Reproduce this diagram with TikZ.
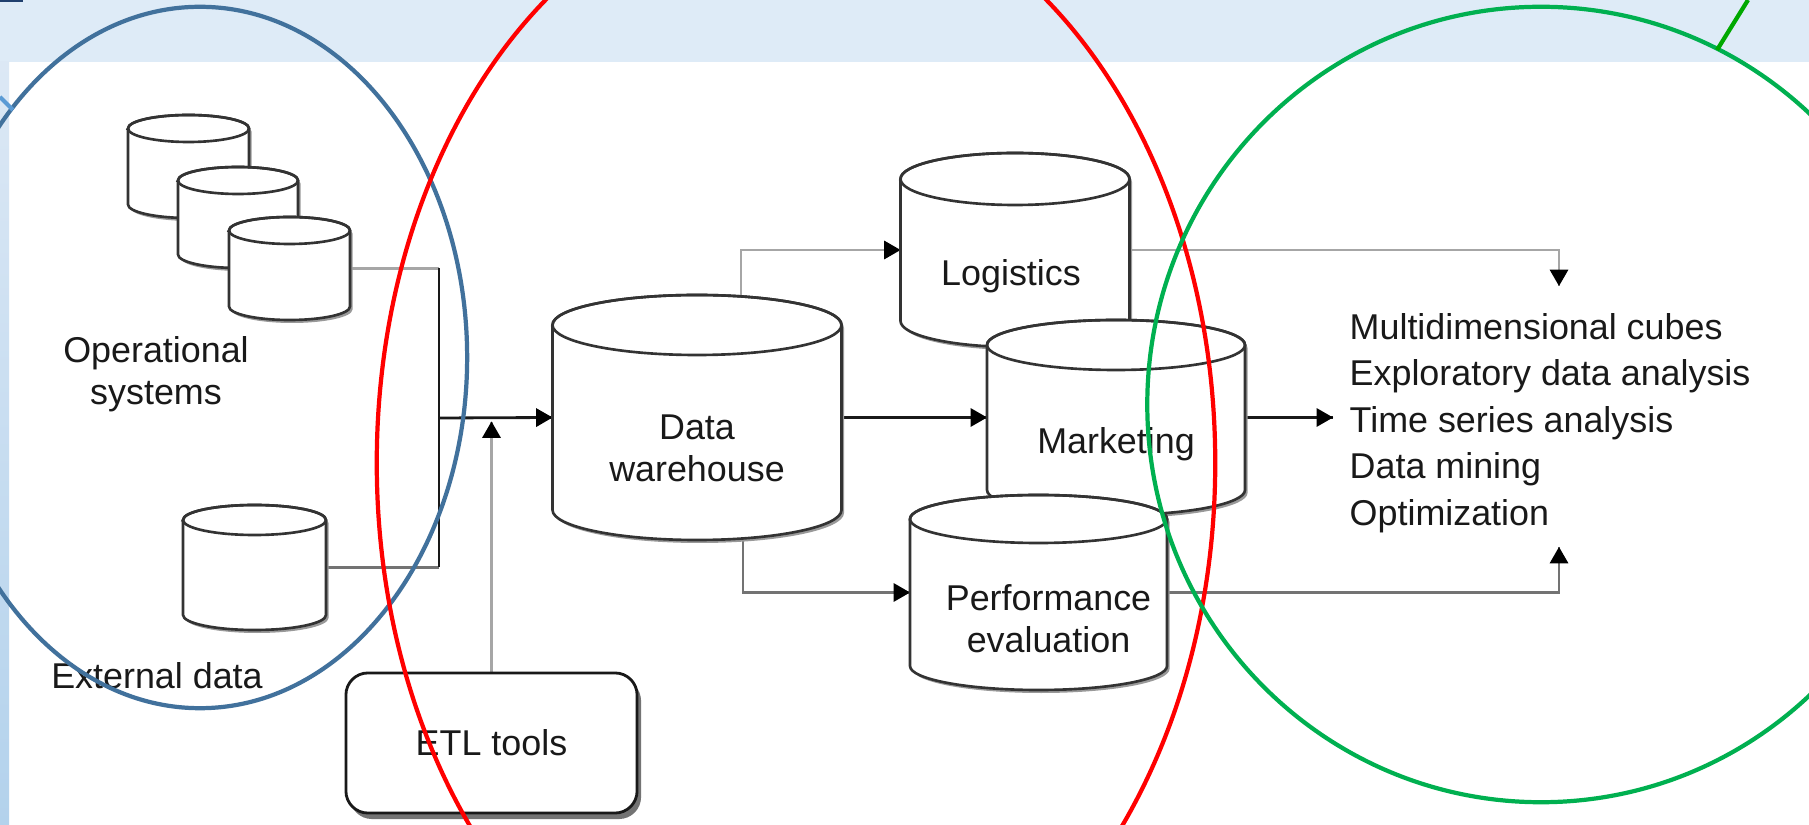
\documentclass[tikz,border=0pt]{standalone}
\usepackage{fontspec}
\setmainfont{Liberation Sans}
\usetikzlibrary{arrows}
\usetikzlibrary{decorations.markings}
\usetikzlibrary{backgrounds}
\usetikzlibrary{shadows}
\definecolor{bandblue}{HTML}{DEEBF7}
\definecolor{stripblue}{HTML}{DCE8F5}
\definecolor{stripdeep}{HTML}{B3D2EC}
\definecolor{navymark}{HTML}{1F3F6E}
\definecolor{loopblue}{HTML}{41719C}
\definecolor{sideblue}{HTML}{5B9BD5}
\definecolor{loopred}{HTML}{FF0000}
\definecolor{loopgreen}{HTML}{00B050}
\definecolor{stickgreen}{HTML}{00A800}
\newcommand{\lblfont}{\fontsize{10.2}{12}\selectfont}
\newcommand{\usesfont}{\fontsize{10.2}{13.25}\selectfont}
\tikzset{headed/.style = {decoration={markings,
                                      mark=at position 1 with {\arrow[scale=0.7, black]{triangle 60}}},
                          postaction={decorate}}}
\tikzset{cylline/.style = {draw=black!80, line width=0.75pt, fill=white,
                           drop shadow={shadow xshift=0.025cm, shadow yshift=-0.03cm,
                                        fill=black!40, opacity=1}}}
\tikzset{capline/.style = {draw=black!80, line width=0.75pt}}
\tikzset{cylbody/.style = {inner sep=0pt, outer sep=0pt}}
\tikzset{dbtext/.style = {font=\lblfont, align=center, inner sep=0pt, text=black!90}}
\tikzset{usestext/.style = {font=\usesfont, align=left, inner sep=0pt, text=black!90}}
\tikzset{etlbox/.style = {draw=black!90, line width=0.8pt, fill=white, rounded corners=0.22cm,
                          minimum width=2.91cm, minimum height=1.40cm, font=\lblfont, text=black!90,
                          drop shadow={shadow xshift=0.04cm, shadow yshift=-0.06cm,
                                       fill=black!55, opacity=1}}}
\tikzset{feed/.style = {draw=black!35, line width=0.8pt}}
\tikzset{feeddark/.style = {draw=black!55, line width=0.8pt}}
\tikzset{trunk/.style = {draw=black!90, line width=0.8pt}}
\tikzset{loop/.style = {line width=1.2pt}}

% #1 name, #2 centre x, #3 top, #4 bottom, #5 half width, #6 cap radius
\newcommand{\dbcyl}[6]{%
  \pgfmathsetmacro{\cyltop}{#3+#6}%
  \pgfmathsetmacro{\cylbot}{#4-#6}%
  \pgfmathsetmacro{\cylmid}{(\cyltop+\cylbot)/2}%
  \pgfmathsetmacro{\cylrx}{#5*0.01}%
  \pgfmathsetmacro{\cylry}{#6*0.01}%
  \pgfmathsetmacro{\cylwd}{2*#5*0.01}%
  \pgfmathsetmacro{\cylht}{(\cylbot-\cyltop)*0.01}%
  \filldraw[cylline] (#2-#5,\cyltop) -- (#2-#5,\cylbot)
    arc[start angle=180, end angle=360, x radius=\cylrx cm, y radius=\cylry cm]
    -- (#2+#5,\cyltop)
    arc[start angle=0, end angle=180, x radius=\cylrx cm, y radius=\cylry cm] -- cycle;
  \draw[capline] (#2,\cyltop) ellipse[x radius=\cylrx cm, y radius=\cylry cm];
  \node[cylbody, minimum width=\cylwd cm, minimum height=\cylht cm] (#1) at (#2,\cylmid) {};
}

\begin{document}
\begin{tikzpicture}[x=0.01cm, y=-0.01cm]
  \useasboundingbox (0,0) rectangle (1809,825);
  \clip (0,0) rectangle (1809,825);

  % sources
  \dbcyl{opa}{188.5}{115}{218}{60.5}{13.5}
  \dbcyl{opb}{238}{167}{268}{60}{13.5}
  \dbcyl{opc}{289.5}{217}{320}{60.5}{13.5}
  \dbcyl{ext}{254.5}{505}{630}{71.5}{15}
  \node[dbtext] (optext) at (156,374) {Operational\\systems};
  \node[dbtext] (exttext) at (157,676) {External data};

  \node[etlbox] (etl) at (491.5,743) {ETL tools};

  % warehouse and marts
  \dbcyl{dw}{697}{295}{540}{144.5}{30}
  \node[dbtext] (dwtext) at ([yshift=-0.31cm]dw.center) {Data\\warehouse};
  \dbcyl{log}{1015}{153}{347}{114.5}{26}
  \node[dbtext] (logtext) at ([xshift=-0.04cm, yshift=-0.26cm]log.center) {Logistics};
  \dbcyl{mkt}{1116}{320}{515}{129}{25}
  \node[dbtext] (mkttext) at ([yshift=-0.27cm]mkt.center) {Marketing};
  \dbcyl{perf}{1038.5}{495}{690}{128.5}{24}
  \node[dbtext] (perftext) at ([xshift=0.1cm, yshift=-0.26cm]perf.center) {Performance\\evaluation};

  \node[usestext, anchor=west] (uses) at (1349,423)
    {Multidimensional cubes\\Exploratory data analysis\\Time series analysis\\Data mining\\Optimization};

  \coordinate (junc) at (439,418);
  \coordinate (outtop) at (1559,286);
  \coordinate (outbot) at (1559,547);

  \begin{scope}[on background layer]
    \fill[white] (0,0) rectangle (1809,825);
    \fill[bandblue] (0,0) rectangle (1809,62);
    \shade[top color=stripblue, bottom color=stripdeep] (0,62) rectangle (9,825);
    \fill[navymark] (0,0) rectangle (23,2);

    \draw[feed] (opc.east) -- (opc.east -| junc);
    \draw[feeddark] (ext.east) -- (ext.east -| junc);
    \draw[trunk] (opc.east -| junc) -- (ext.east -| junc);
    \draw[trunk, headed] (junc) -- (dw.west);
    \draw[feed, headed] (etl.north) -- ([yshift=-1pt]etl.north |- junc);

    \draw[feed, headed] ([xshift=0.44cm]dw.center) |- (log.west);
    \draw[trunk, headed] (dw.east) -- (mkt.west);
    \draw[feeddark, headed] ([xshift=0.46cm]dw.center) |- (perf.west);

    \draw[feed, headed] (log.east) -| (outtop);
    \draw[trunk, headed] (mkt.east) -- ([xshift=-0.16cm]mkt.east -| uses.west);
    \draw[feeddark, headed] (perf.east) -| (outbot);
  \end{scope}

  % groupings
  \draw[loop, loopblue] (200,357.5) ellipse[x radius=2.67cm, y radius=3.505cm];
  \draw[loop, sideblue] (0,97) -- (13,110);
  \draw[loop, loopred] (796,463) ellipse[x radius=4.19cm, y radius=5.77cm];
  \draw[loop, loopgreen] (1541,404.5) ellipse[x radius=3.935cm, y radius=3.975cm];
  \draw[loop, stickgreen] (1717,50) -- (1748,0);
\end{tikzpicture}
\end{document}
